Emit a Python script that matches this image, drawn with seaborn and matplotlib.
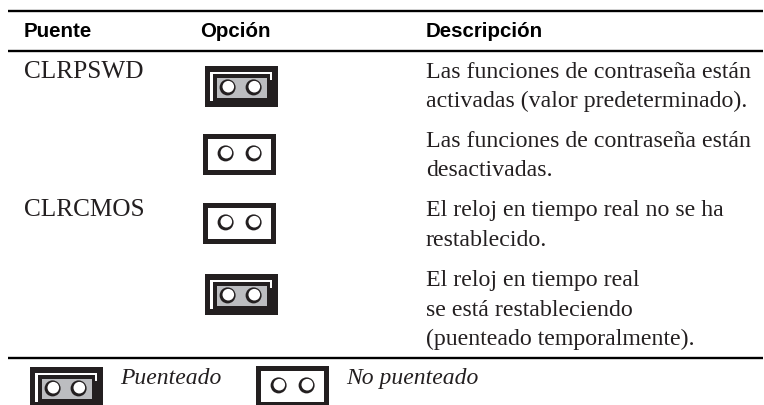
"""Jumper settings table (Puente / Opción / Descripción)."""

import matplotlib
matplotlib.use("Agg")
import matplotlib.pyplot as plt
from matplotlib.patches import Circle, Rectangle
import seaborn as sns

sns.set_theme(style="white")

SERIF = "Liberation Serif"
HEAD = "Liberation Sans"

headers = ["Puente", "Opción", "Descripción"]
jumpers = ["CLRPSWD", "CLRCMOS"]
descriptions = [
    ["Las funciones de contraseña están", "activadas (valor predeterminado)."],
    ["Las funciones de contraseña están", "desactivadas."],
    ["El reloj en tiempo real no se ha", "restablecido."],
    ["El reloj en tiempo real", "se está restableciendo", "(puenteado temporalmente)."],
]
jumpered = [True, False, False, True]
legend_labels = ["Puenteado", "No puenteado"]

INK = "#231f20"
GRAY = "#bcbdc0"


def draw_pin(ax, cx, cy):
    """One jumper pin: dark ring, heavier towards the lower left."""
    ax.add_patch(Circle((cx - 0.4, cy + 0.4), 8, fc=INK, ec="none"))
    ax.add_patch(Circle((cx + 0.3, cy - 0.3), 5.8, fc="white", ec="none"))


def draw_icon(ax, x, y, closed):
    """Draw a jumper icon with its top left corner at x, y."""
    w, h = 73, 41
    ax.add_patch(Rectangle((x, y), w, h, fc=INK, ec="none"))
    if closed:
        # white L shaped gap around the grey cap
        ax.add_patch(Rectangle((x + 5, y + 6), 62, 2, fc="white", ec="none"))
        ax.add_patch(Rectangle((x + 65, y + 6), 2, 8, fc="white", ec="none"))
        ax.add_patch(Rectangle((x + 5, y + 6), 3, 29, fc="white", ec="none"))
        ax.add_patch(Rectangle((x + 12, y + 12), 50, 20, fc=GRAY, ec="none"))
        pins = (x + 23, x + 49)
        pin_y = y + 21
    else:
        ax.add_patch(Rectangle((x + 5, y + 5), w - 10, h - 10, fc="white", ec="none"))
        pins = (x + 23, x + 51)
        pin_y = y + 19
    for cx in pins:
        draw_pin(ax, cx, pin_y)


fig = plt.figure(figsize=(7.64, 4.05), dpi=100)
ax = fig.add_axes([0, 0, 1, 1])
ax.set_xlim(0, 764)
ax.set_ylim(405, 0)
ax.axis("off")

for y in [11, 51, 358]:
    ax.plot([8, 763], [y, y], color="black", lw=1.7, solid_capstyle="butt")

for x, label in zip([24, 200, 426], headers):
    ax.text(x, 37, label, family=HEAD, weight="bold", fontsize=14.8, color="black", va="baseline")

for y, label in zip([78, 216], jumpers):
    ax.text(24, y, label, family=SERIF, fontsize=18.2, color=INK, va="baseline")

text_y = [78, 147, 216, 286]
icon_pos = [(205, 66), (203, 134), (203, 203), (205, 274)]
for y0, lines, closed, (ix, iy) in zip(text_y, descriptions, jumpered, icon_pos):
    for i, line in enumerate(lines):
        ax.text(426, y0 + i * 29.5, line, family=SERIF, fontsize=17.2, color=INK, va="baseline")
    draw_icon(ax, ix, iy, closed)

draw_icon(ax, 30, 367, True)
draw_icon(ax, 256, 366, False)
for x, label in zip([120, 346], legend_labels):
    ax.text(x, 384, label, family=SERIF, style="italic", fontsize=17, color=INK, va="baseline")

fig.savefig("out.png", dpi=100)
plt.close(fig)
